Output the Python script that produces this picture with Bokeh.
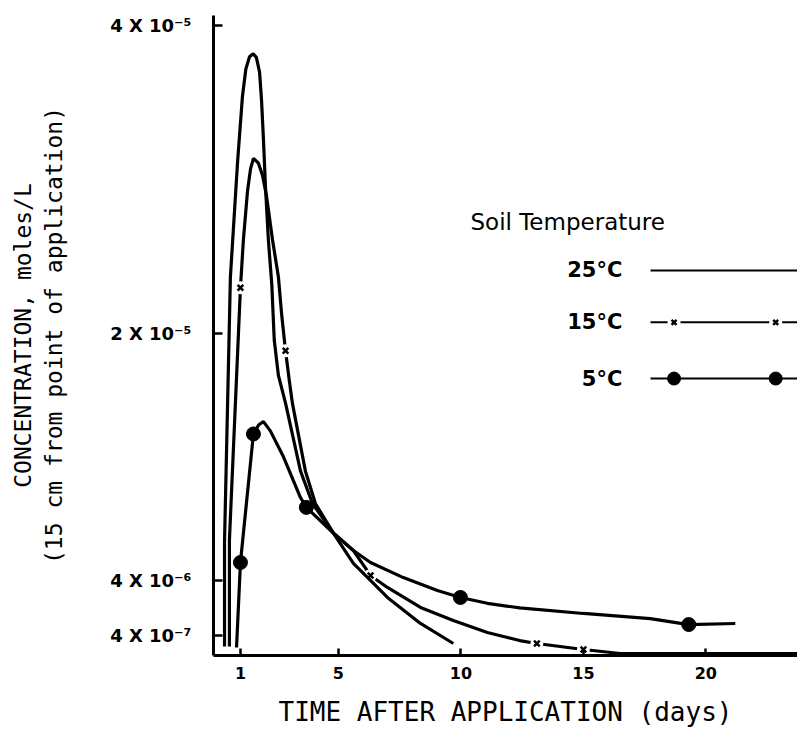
import numpy as np
from bokeh.plotting import figure
from bokeh.models import FixedTicker, Range1d
from bokeh.core.properties import value
from bokeh.embed import file_html
from bokeh.resources import INLINE

# Time after application (days) and concentration (units of 1e-6 moles/L)
days_25 = [0.35, 0.35, 0.59, 0.88, 1.08, 1.22, 1.37, 1.52, 1.65, 1.78, 1.86, 1.94, 2.02,
           2.14, 2.28, 2.38, 2.55, 2.84, 3.45, 3.94, 4.80, 5.61, 7.00, 8.35, 9.69]
conc_25 = [-0.3, 6.5, 23.7, 31.1, 35.4, 37.2, 38.0, 38.2, 37.96, 37.0, 35.2, 32.6, 29.6,
           26.1, 23.2, 19.6, 17.3, 15.5, 11.1, 8.98, 7.05, 5.10, 2.88, 1.19, -0.11]

days_15 = [0.55, 0.55, 1.0, 1.12, 1.29, 1.41, 1.53, 1.73, 1.90, 2.06, 2.31, 2.55, 2.68,
           2.84, 3.0, 3.12, 3.65, 4.06, 4.80, 5.61, 6.31, 7.0, 8.35, 9.69, 11.08, 12.4, 13.1,
           15.0, 16.5, 23.74]
conc_15 = [-0.3, 6.6, 23.0, 26.1, 29.3, 30.7, 31.4, 31.1, 30.3, 29.0, 26.1, 23.7, 21.3,
           18.9, 16.9, 15.5, 11.1, 8.98, 7.05, 5.93, 4.31, 3.53, 2.23, 1.38, 0.6, 0.08, -0.11,
           -0.5, -0.76, -0.76]
mark_days_15 = [1.0, 2.84, 6.31, 13.1, 15.0]
mark_conc_15 = [23.0, 18.9, 4.31, -0.11, -0.5]

days_5 = [0.84, 1.0, 1.53, 1.75, 1.94, 2.22, 2.76, 3.45, 3.69, 4.8, 5.61, 6.31, 7.65,
          9.04, 9.98, 11.08, 12.4, 15.0, 17.73, 19.3, 21.2]
conc_5 = [-0.37, 5.15, 13.5, 14.1, 14.3, 13.7, 12.0, 9.37, 8.73, 7.05, 5.93, 5.15, 4.17,
          3.33, 2.88, 2.5, 2.2, 1.84, 1.5, 1.12, 1.19]
mark_days_5 = [1.0, 1.53, 3.69, 9.98, 19.3]
mark_conc_5 = [5.15, 13.5, 8.73, 2.88, 1.12]

x_ticks = [1, 5, 10, 15, 20]
y_ticks = [0.4, 4, 20, 40]
y_tick_labels = ["4 X 10⁻⁷", "4 X 10⁻⁶", "2 X 10⁻⁵", "4 X 10⁻⁵"]
legend_title = "Soil Temperature"
legend_labels = ["25°C", "15°C", "5°C"]
x_title = "TIME AFTER APPLICATION (days)"
y_title = "CONCENTRATION, moles/L\n(15 cm from point of application)"

# ---- layout / style constants ----
X0, X1 = -0.1, 23.74
Y0, Y1 = -0.89, 40.68
LEG_TITLE_X, LEG_TITLE_Y = 10.39, 27.24
LEG_LABEL_X = 16.59
LEG_ROW_Y = [24.12, 20.75, 17.1]
LEG_LINE_X = [17.74, 23.74]
LEG_MARK_X = [18.7, 22.85]

p = figure(width=797, height=736, x_range=Range1d(X0, X1), y_range=Range1d(Y0, Y1),
           output_backend="svg", toolbar_location=None,
           min_border_left=213, min_border_right=0, min_border_top=15, min_border_bottom=81)
p.outline_line_color = None
p.grid.visible = False
p.background_fill_color = "white"
p.border_fill_color = "white"

# x axis
xa = p.xaxis[0]
xa.ticker = FixedTicker(ticks=x_ticks)
xa.major_tick_in = 7
xa.major_tick_out = 0
xa.minor_tick_line_color = None
xa.axis_line_width = 3
xa.axis_line_color = "black"
xa.major_tick_line_color = "black"
xa.major_tick_line_width = 2.5
xa.major_label_text_font = "DejaVu Sans"
xa.major_label_text_font_style = "bold"
xa.major_label_text_font_size = "16px"
xa.major_label_text_color = "black"
xa.major_label_standoff = 11
xa.axis_label = x_title
xa.axis_label_text_font = "DejaVu Sans Mono"
xa.axis_label_text_font_style = "normal"
xa.axis_label_text_font_size = "26px"
xa.axis_label_text_color = "black"
xa.axis_label_standoff = 15

# y axis
ya = p.yaxis[0]
ya.ticker = FixedTicker(ticks=y_ticks)
ya.major_label_overrides = dict(zip(y_ticks, y_tick_labels))
ya.major_tick_in = 9
ya.major_tick_out = 0
ya.minor_tick_line_color = None
ya.axis_line_width = 3
ya.axis_line_color = "black"
ya.major_tick_line_color = "black"
ya.major_tick_line_width = 2.5
ya.major_label_text_font = "DejaVu Sans"
ya.major_label_text_font_style = "bold"
ya.major_label_text_font_size = "18px"
ya.major_label_text_color = "black"
ya.major_label_standoff = 22
ya.axis_label = y_title
ya.axis_label_text_font = "DejaVu Sans Mono"
ya.axis_label_text_font_style = "normal"
ya.axis_label_text_font_size = "23px"
ya.axis_label_text_color = "black"
ya.axis_label_standoff = 40

# 15 C: line broken around the x markers
p.line(days_15, conc_15, line_color="black", line_width=3.2)
p.scatter(mark_days_15, mark_conc_15, marker="circle", size=13, fill_color="white", line_color=None)
p.scatter(mark_days_15, mark_conc_15, marker="x", size=8, line_color="black", line_width=2.5)

# 25 C
p.line(days_25, conc_25, line_color="black", line_width=3.2)

# 5 C
p.line(days_5, conc_5, line_color="black", line_width=3.2)
p.scatter(mark_days_5, mark_conc_5, marker="circle", size=14, fill_color="black", line_color="black")

# legend (drawn by hand: label on the left, sample on the right)
p.text(x=[LEG_TITLE_X], y=[LEG_TITLE_Y], text=[legend_title], text_font=value("DejaVu Sans"),
       text_font_size=value("23px"), text_align="left", text_baseline="middle", text_color="black")
p.text(x=[LEG_LABEL_X] * 3, y=LEG_ROW_Y, text=legend_labels, text_font=value("DejaVu Sans"),
       text_font_size=value("21px"), text_font_style="bold", text_align="right",
       text_baseline="middle", text_color="black")
for i, yy in enumerate(LEG_ROW_Y):
    p.line(LEG_LINE_X, [yy, yy], line_color="black", line_width=2)
yy15 = LEG_ROW_Y[1]
p.scatter(LEG_MARK_X, [yy15] * 2, marker="circle", size=13, fill_color="white", line_color=None)
p.scatter(LEG_MARK_X, [yy15] * 2, marker="x", size=7, line_color="black", line_width=2.5)
p.scatter(LEG_MARK_X, [LEG_ROW_Y[2]] * 2, marker="circle", size=13, fill_color="black", line_color="black")

open("out.html", "w").write(file_html(p, INLINE))
